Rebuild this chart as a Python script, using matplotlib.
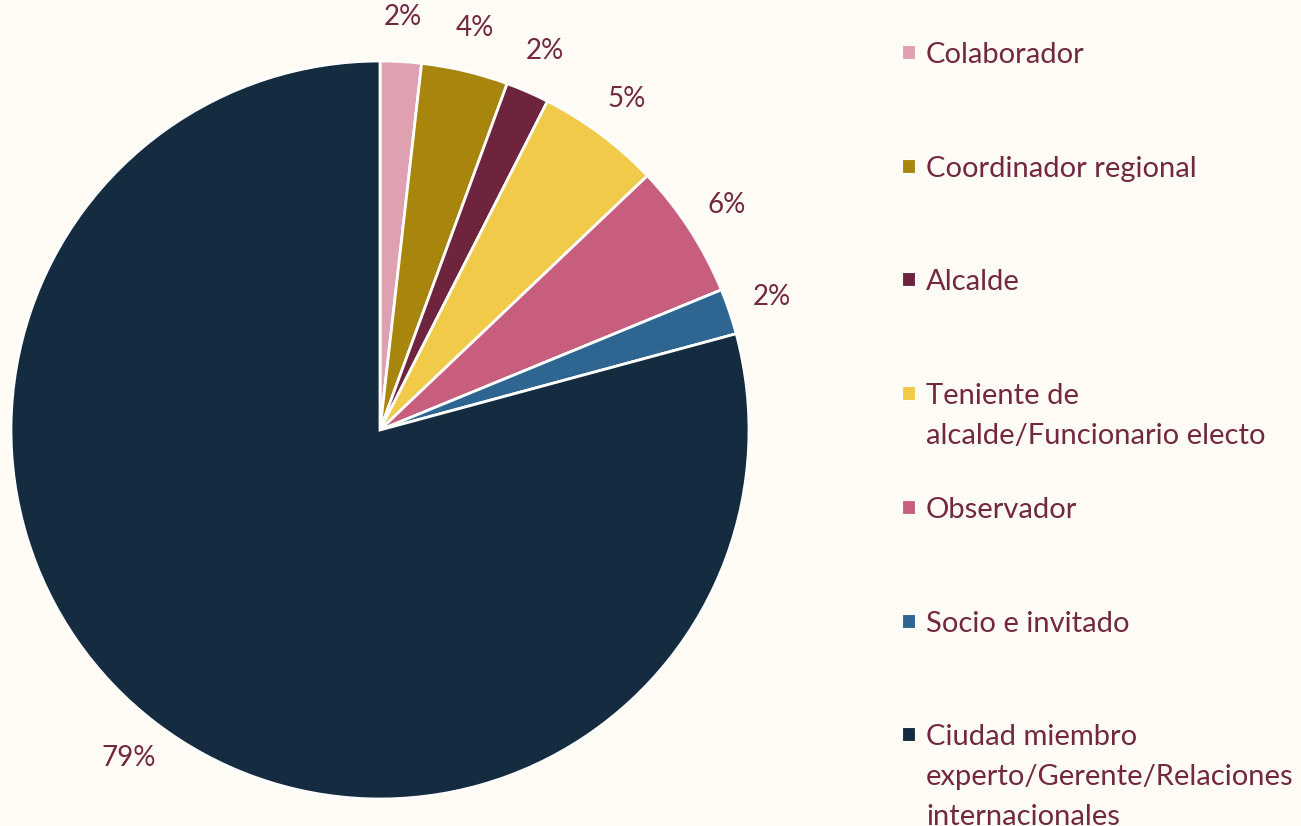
import matplotlib
matplotlib.use("Agg")
import matplotlib.pyplot as plt
from matplotlib.patches import Rectangle

categories = ["Colaborador", "Coordinador regional", "Alcalde",
              "Teniente de\nalcalde/Funcionario electo", "Observador",
              "Socio e invitado",
              "Ciudad miembro\nexperto/Gerente/Relaciones\ninternacionales"]
values = [1.8, 3.8, 1.9, 5.4, 5.9, 2.0, 79.2]
colors = ["#DFA0B2", "#A8860E", "#6E243D", "#F0CA48", "#C85E7D", "#2E6591", "#152C40"]

BG = "#FFFCF5"
TXT = "#722840"
FONT = ["Lato", "DejaVu Sans"]
plt.rcParams['font.family'] = FONT

W, H = 1301, 826
fig = plt.figure(figsize=(W/100, H/100), dpi=100, facecolor=BG)

cx, cy, r = 380, 430, 369
ax = fig.add_axes([(cx - r)/W, (H - cy - r)/H, 2*r/W, 2*r/H])
ax.set_facecolor(BG)
ax.pie(values, colors=colors, startangle=90, counterclock=False, radius=1,
       autopct=lambda p: f"{p:.0f}%", pctdistance=1.12,
       wedgeprops=dict(edgecolor="white", linewidth=2.0),
       textprops=dict(color=TXT, fontsize=20))
ax.set_xlim(-1, 1)
ax.set_ylim(-1, 1)
ax.axis("off")

# legend
base0 = 63
pitch = 113.7
line_h = 40
for i, (lab, col) in enumerate(zip(categories, colors)):
    yb = base0 + i*pitch
    fig.patches.append(Rectangle(((902)/W, (H - yb + 4)/H), 13/W, 14/H,
                                 transform=fig.transFigure, facecolor=col,
                                 edgecolor="white", linewidth=0.8))
    for j, line in enumerate(lab.split("\n")):
        fig.text(926/W, (H - yb - j*line_h)/H, line, color=TXT, fontsize=21,
                 va="baseline", ha="left")

fig.savefig("out.png", dpi=100, facecolor=BG)
